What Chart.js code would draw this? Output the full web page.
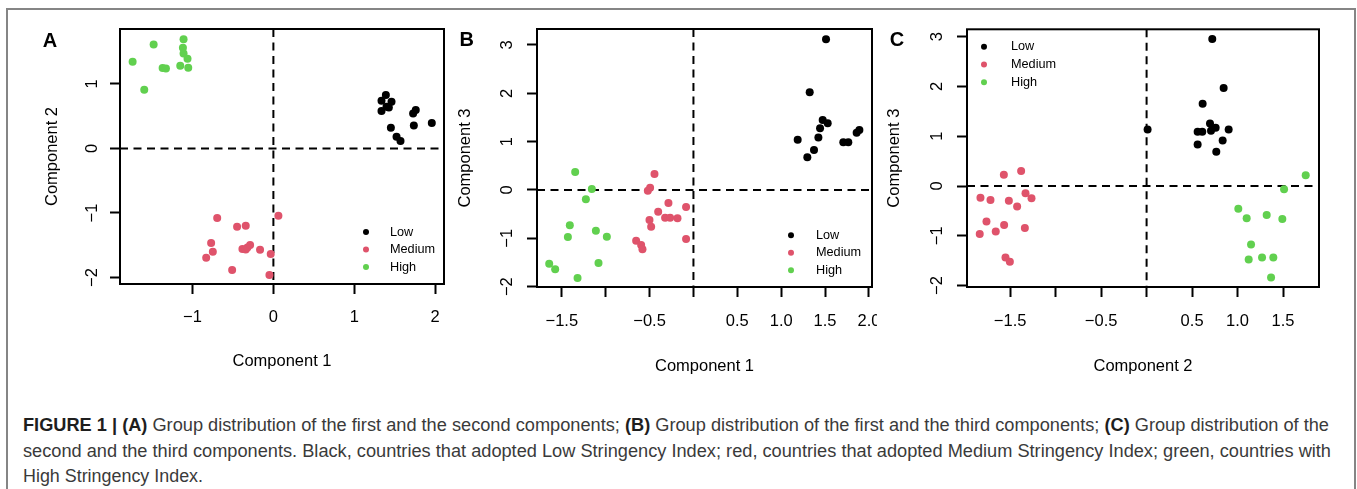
<!DOCTYPE html>
<html>
<head>
<meta charset="utf-8">
<script src="https://cdn.jsdelivr.net/npm/chart.js@4.4.1/dist/chart.umd.min.js"></script>
<style>
  html, body { margin: 0; padding: 0; background: #fff; }
  body { width: 1357px; height: 489px; position: relative; overflow: hidden; font-family: 'Liberation Sans', Arial, sans-serif; }
  #frame { position: absolute; left: 6px; top: 8px; width: 1346px; height: 520px; border: 2px solid #858585; }
  canvas { position: absolute; }
  #chartA { left: 8px; top: 10px; }
  #chartB { left: 450px; top: 10px; }
  #chartC { left: 877px; top: 10px; background: #fff; }
  .tag { position: absolute; font-weight: bold; font-size: 20px; color: #000; line-height: 20px; transform: translate(-50%, -50%); }
  .cap { position: absolute; left: 22.7px; font-size: 17.5px; line-height: 20px; color: #3a3a3a; white-space: nowrap; transform-origin: 0 0; }
  .cap b { color: #1e1e1e; }
</style>
</head>
<body>
<div id="frame"></div>
<canvas id="chartA" width="440" height="370"></canvas>
<canvas id="chartB" width="435" height="370"></canvas>
<canvas id="chartC" width="475" height="370"></canvas>
<div class="tag" style="left:50px; top:39.5px;">A</div>
<div class="tag" style="left:466.7px; top:39px;">B</div>
<div class="tag" style="left:897px; top:39px;">C</div>

<div class="cap" id="cap1" data-w="1306" style="top:415px;"><b>FIGURE 1 | (A)</b> Group distribution of the first and the second components; <b>(B)</b> Group distribution of the first and the third components; <b>(C)</b> Group distribution of the</div>
<div class="cap" id="cap2" data-w="1308" style="top:441px;">second and the third components. Black, countries that adopted Low Stringency Index; red, countries that adopted Medium Stringency Index; green, countries with</div>
<div class="cap" id="cap3" data-w="180" style="top:466px;">High Stringency Index.</div>

<script>
// groups
const groupNames = ['Low', 'Medium', 'High'];
const groupColors = ['#000000', '#DF536B', '#61D04F'];

// panel A: component 1 vs component 2
const aLowX = [1.337, 1.337, 1.391, 1.399, 1.428, 1.461, 1.453, 1.523, 1.572, 1.728, 1.761, 1.737, 1.959];
const aLowY = [0.578, 0.738, 0.826, 0.645, 0.635, 0.723, 0.320, 0.181, 0.114, 0.542, 0.594, 0.356, 0.392];
const aMedX = [-0.695, -0.770, -0.749, -0.831, -0.510, -0.449, -0.342, -0.383, -0.342, -0.321, -0.288, -0.165, -0.033, -0.049, 0.062];
const aMedY = [-1.079, -1.466, -1.600, -1.693, -1.884, -1.213, -1.198, -1.559, -1.564, -1.533, -1.497, -1.569, -1.637, -1.962, -1.043];
const aHighX = [-1.741, -1.597, -1.481, -1.370, -1.329, -1.152, -1.119, -1.111, -1.111, -1.062, -1.053];
const aHighY = [1.342, 0.909, 1.611, 1.244, 1.239, 1.280, 1.559, 1.693, 1.471, 1.389, 1.249];

// panel B: component 1 vs component 3
const bLowX = [1.511, 1.325, 1.188, 1.298, 1.374, 1.424, 1.443, 1.473, 1.530, 1.708, 1.765, 1.860, 1.891];
const bLowY = [3.117, 2.021, 1.041, 0.676, 0.828, 1.083, 1.276, 1.448, 1.379, 0.986, 0.986, 1.186, 1.241];
const bMedX = [-0.444, -0.494, -0.520, -0.285, -0.402, -0.501, -0.482, -0.323, -0.266, -0.182, -0.084, -0.084, -0.653, -0.596, -0.581];
const bMedY = [0.331, 0.048, -0.014, -0.269, -0.448, -0.621, -0.759, -0.572, -0.572, -0.586, -0.352, -1.014, -1.048, -1.138, -1.228];
const bHighX = [-1.348, -1.158, -1.226, -1.409, -1.431, -1.112, -0.987, -1.082, -1.321, -1.644, -1.576];
const bHighY = [0.372, 0.021, -0.193, -0.731, -0.972, -0.841, -0.966, -1.510, -1.821, -1.524, -1.641];

// panel C: component 2 vs component 3
const cLowX = [0.722, 0.847, 0.616, 0.011, 0.561, 0.612, 0.697, 0.708, 0.759, 0.902, 0.561, 0.836, 0.766];
const cLowY = [2.955, 1.972, 1.651, 1.136, 1.090, 1.090, 1.257, 1.110, 1.170, 1.136, 0.836, 0.916, 0.689];
const cMedX = [-1.826, -1.716, -1.569, -1.379, -1.331, -1.265, -1.514, -1.423, -1.760, -1.834, -1.658, -1.566, -1.338, -1.551, -1.503];
const cMedY = [-0.234, -0.281, 0.227, 0.301, -0.147, -0.247, -0.294, -0.414, -0.715, -0.963, -0.916, -0.782, -0.842, -1.437, -1.524];
const cHighX = [1.749, 1.511, 1.008, 1.100, 1.320, 1.492, 1.148, 1.122, 1.269, 1.393, 1.368];
const cHighY = [0.214, -0.067, -0.455, -0.648, -0.582, -0.662, -1.176, -1.477, -1.437, -1.437, -1.838];

// ticks and tick labels
const aTicksX = [-1, 0, 1, 2];
const aLabelsX = ['−1', '0', '1', '2'];
const aTicksY = [-2, -1, 0, 1];
const aLabelsY = ['−2', '−1', '0', '1'];
const bTicksX = [-1.5, -1, -0.5, 0, 0.5, 1, 1.5, 2];
const bLabelsX = ['−1.5', '', '−0.5', '', '0.5', '1.0', '1.5', '2.0'];
const bTicksY = [-2, -1, 0, 1, 2, 3];
const bLabelsY = ['−2', '−1', '0', '1', '2', '3'];
const cTicksX = [-1.5, -1, -0.5, 0, 0.5, 1, 1.5];
const cLabelsX = ['−1.5', '', '−0.5', '', '0.5', '1.0', '1.5'];
const cTicksY = [-2, -1, 0, 1, 2, 3];
const cLabelsY = ['−2', '−1', '0', '1', '2', '3'];

Chart.defaults.font.family = "'Liberation Sans', Arial, sans-serif";
Chart.defaults.color = '#000';

const pts = (xs, ys) => xs.map((x, i) => ({ x: x, y: ys[i] }));

// box, dashed zero lines and the in-plot legend
const panelDeco = {
  id: 'panelDeco',
  beforeDatasetsDraw(chart) {
    const { ctx, chartArea: a, scales } = chart;
    const x0 = scales.x.getPixelForValue(0);
    const y0 = scales.y.getPixelForValue(0);
    ctx.save();
    ctx.strokeStyle = '#000';
    ctx.lineWidth = 2;
    ctx.setLineDash([8, 5.5]);
    ctx.beginPath();
    ctx.moveTo(x0, a.top); ctx.lineTo(x0, a.bottom);
    ctx.moveTo(a.left, y0); ctx.lineTo(a.right, y0);
    ctx.stroke();
    ctx.restore();
  },
  afterDraw(chart, args, opts) {
    const { ctx, chartArea: a } = chart;
    ctx.save();
    ctx.strokeStyle = '#000';
    ctx.lineWidth = 2;
    ctx.strokeRect(a.left, a.top, a.right - a.left, a.bottom - a.top);

    const base = opts.side === 'right' ? a.right : a.left;
    const rowTop = opts.fromBottom ? a.bottom + opts.rowY : a.top + opts.rowY;
    ctx.font = "12.7px 'Liberation Sans', Arial, sans-serif";
    ctx.textBaseline = 'middle';
    ctx.textAlign = 'left';
    chart.data.datasets.forEach((ds, i) => {
      const y = rowTop + i * opts.rowGap;
      ctx.fillStyle = ds.backgroundColor;
      ctx.beginPath();
      ctx.arc(base + opts.pointDx, y, 3, 0, Math.PI * 2);
      ctx.fill();
      ctx.fillStyle = '#000';
      ctx.fillText(ds.label, base + opts.textDx, y);
    });
    ctx.restore();
  }
};

function makePanel(id, series, xr, yr, xt, xl, yt, yl, xTitle, yTitle, lay, legend) {
  const datasets = series.map((s, i) => ({
    label: groupNames[i],
    data: s,
    backgroundColor: groupColors[i],
    borderWidth: 0,
    pointRadius: 4,
    pointHoverRadius: 4
  }));
  const gridOpts = {
    display: true,
    drawOnChartArea: false,
    drawTicks: true,
    tickLength: 10,
    tickWidth: 2,
    tickColor: '#000'
  };
  return new Chart(document.getElementById(id), {
    type: 'scatter',
    data: { datasets: datasets },
    plugins: [panelDeco],
    options: {
      responsive: false,
      animation: false,
      events: [],
      layout: { padding: { left: 0, top: lay.top, right: lay.right, bottom: 0 } },
      plugins: {
        legend: { display: false },
        tooltip: { enabled: false },
        panelDeco: legend
      },
      scales: {
        x: {
          type: 'linear',
          min: xr[0], max: xr[1],
          grid: gridOpts,
          border: { display: false },
          afterBuildTicks: s => { s.ticks = xt.map(v => ({ value: v })); },
          afterFit: s => { s.height = lay.xh; s.paddingLeft = 0; s.paddingRight = 0; },
          ticks: {
            autoSkip: false, minRotation: 0, maxRotation: 0,
            padding: lay.xtp,
            font: { size: 16.5 },
            callback: (v, i) => xl[i]
          },
          title: { display: true, text: xTitle, font: { size: 16.5 }, padding: { top: 0, bottom: lay.xtitle } }
        },
        y: {
          type: 'linear',
          min: yr[0], max: yr[1],
          grid: gridOpts,
          border: { display: false },
          afterBuildTicks: s => { s.ticks = yt.map(v => ({ value: v })); },
          afterFit: s => { s.width = lay.yw; s.paddingTop = 0; s.paddingBottom = 0; },
          ticks: {
            autoSkip: false, minRotation: 90, maxRotation: 90,
            crossAlign: 'center',
            padding: lay.ytp,
            font: { size: 16.5 },
            callback: (v, i) => yl[i]
          },
          title: { display: true, text: yTitle, font: { size: 16.5 }, padding: { top: lay.ytitle, bottom: 0 } }
        }
      }
    }
  });
}

makePanel('chartA',
  [pts(aLowX, aLowY), pts(aMedX, aMedY), pts(aHighX, aHighY)],
  [-1.897, 2.11], [-2.1, 1.85],
  aTicksX, aLabelsX, aTicksY, aLabelsY,
  'Component 1', 'Component 2',
  { top: 19, right: 4, yw: 112, xh: 96, xtp: 14, ytp: 8.6, xtitle: 8.5, ytitle: 35 },
  { side: 'right', pointDx: -78, textDx: -54, fromBottom: true, rowY: -52, rowGap: 17.5 });

makePanel('chartB',
  [pts(bLowX, bLowY), pts(bMedX, bMedY), pts(bHighX, bHighY)],
  [-1.783, 2.035], [-2.007, 3.33],
  bTicksX, bLabelsX, bTicksY, bLabelsY,
  'Component 1', 'Component 3',
  { top: 19, right: 13, yw: 87, xh: 93, xtp: 15, ytp: 10.6, xtitle: 4, ytitle: 5.5 },
  { side: 'right', pointDx: -81, textDx: -56, fromBottom: true, rowY: -51.7, rowGap: 17.5 });

makePanel('chartC',
  [pts(cLowX, cLowY), pts(cMedX, cMedY), pts(cHighX, cHighY)],
  [-1.974, 1.895], [-2.03, 3.15],
  cTicksX, cLabelsX, cTicksY, cLabelsY,
  'Component 2', 'Component 3',
  { top: 19.3, right: 33, yw: 90, xh: 93, xtp: 15, ytp: 10.6, xtitle: 4, ytitle: 8 },
  { side: 'left', pointDx: 17, textDx: 44, fromBottom: false, rowY: 17.4, rowGap: 17.8 });

// squeeze caption lines to the widths in the figure
document.querySelectorAll('.cap').forEach(el => {
  const w = el.getBoundingClientRect().width;
  el.style.transform = 'scaleX(' + (parseFloat(el.dataset.w) / w) + ')';
});
</script>
</body>
</html>
